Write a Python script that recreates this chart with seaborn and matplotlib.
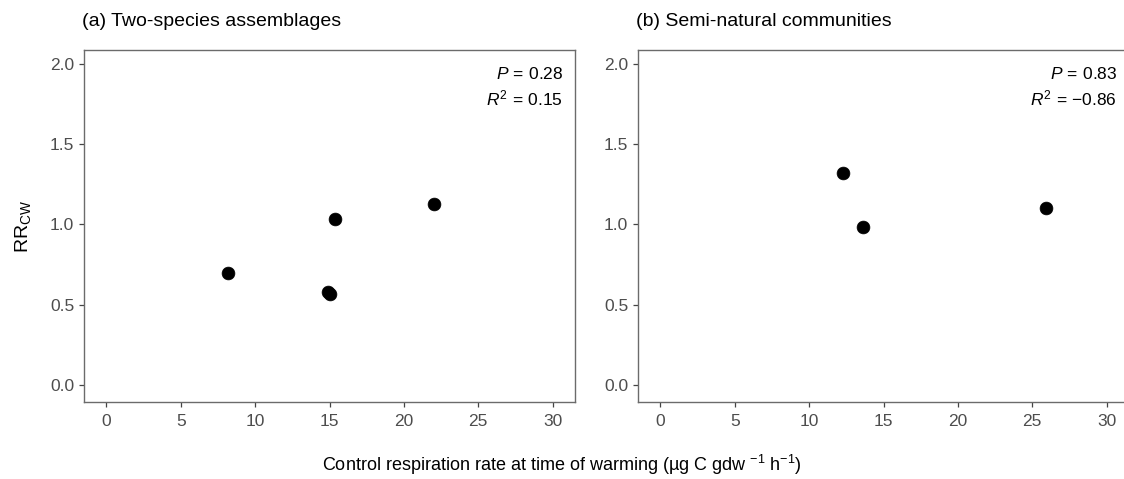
import matplotlib
matplotlib.use("Agg")
import matplotlib.pyplot as plt
import seaborn as sns
import pandas as pd

sns.set_theme(style="white")
plt.rcParams["font.family"] = ["Liberation Sans", "DejaVu Sans"]
plt.rcParams["mathtext.fontset"] = "custom"
plt.rcParams["mathtext.rm"] = "Liberation Sans"
plt.rcParams["mathtext.it"] = "Liberation Sans:italic"

# Two-species assemblages
two_sp_rate = [8.2, 14.9, 15.0, 15.4, 22.0]
two_sp_rr = [0.70, 0.58, 0.565, 1.035, 1.125]
# Semi-natural communities
semi_rate = [12.3, 13.6, 25.9]
semi_rr = [1.32, 0.985, 1.10]

panel_titles = ["(a) Two-species assemblages", "(b) Semi-natural communities"]
p_values = ["0.28", "0.83"]
r2_values = ["0.15", "\u22120.86"]

df_a = pd.DataFrame({"rate": two_sp_rate, "rr": two_sp_rr})
df_b = pd.DataFrame({"rate": semi_rate, "rr": semi_rr})

W, H = 1124, 479
fig = plt.figure(figsize=(W / 100, H / 100), dpi=100)
ax_a = fig.add_axes([84 / W, 1 - 402 / H, 491 / W, 352 / H])
ax_b = fig.add_axes([638 / W, 1 - 402 / H, 491 / W, 352 / H])

grey = "#4d4d4d"
for ax, df, title, p, r2 in zip([ax_a, ax_b], [df_a, df_b], panel_titles, p_values, r2_values):
    sns.scatterplot(data=df, x="rate", y="rr", ax=ax, color="black", s=85,
                    edgecolor="black", linewidth=0.5, zorder=3)
    ax.set_xlim(-1.5, 31.5)
    ax.set_ylim(-0.106, 2.087)
    ax.set_xticks([0, 5, 10, 15, 20, 25, 30])
    ax.set_yticks([0.0, 0.5, 1.0, 1.5, 2.0])
    ax.set_yticklabels(["0.0", "0.5", "1.0", "1.5", "2.0"])
    ax.tick_params(axis="both", direction="out", length=3.6, width=0.9,
                   color="#444444", labelcolor=grey, labelsize=12.5,
                   bottom=True, left=True)
    ax.tick_params(axis="x", pad=5)
    ax.tick_params(axis="y", pad=3.5)
    for sp in ax.spines.values():
        sp.set_color("#6b6b6b")
        sp.set_linewidth(1.0)
    ax.set_xlabel("")
    ax.set_ylabel("")
    ax.set_title(title, loc="left", fontsize=14, color="black", pad=17, x=-0.004)
    ax.text(0.976, 0.931, r"$P\,=\,$" + p, transform=ax.transAxes,
            ha="right", va="center", fontsize=12.5, color="black")
    ax.text(0.976, 0.861, r"$R^2\,=\,$" + r2, transform=ax.transAxes,
            ha="right", va="center", fontsize=12.5, color="black")

ax_a.set_ylabel(r"RR$_{\mathrm{CW}}$", fontsize=14, color="black", labelpad=12)
fig.text(0.5, 1 - 465 / H,
         r"Control respiration rate at time of warming (µg C gdw $^{-1}$ h$^{-1}$)",
         ha="center", va="center", fontsize=13, color="black")

fig.savefig("out.png", dpi=100, facecolor="white")
